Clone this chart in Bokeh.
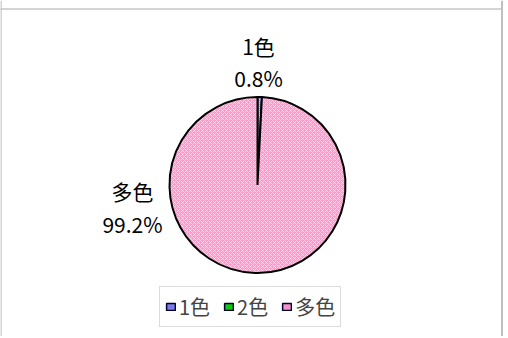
import numpy as np
from bokeh.plotting import figure
from bokeh.models import Range1d, Span, Legend, LegendItem, ColumnDataSource
from bokeh.core.properties import value
from bokeh.embed import file_html
from bokeh.resources import INLINE

# ---- data ----
categories = ["1色", "2色", "多色"]
percents = [0.8, 0.0, 99.2]
fill_colors = ["#9999FF", "#33CC33", "#FF99CC"]
legend_colors = ["#7C7CE8", "#10C810", "#F590C8"]

W, H = 503, 336
FONT = "Noto Sans CJK JP"
p = figure(width=W, height=H, output_backend="svg", toolbar_location=None,
           x_range=Range1d(0, W), y_range=Range1d(0, H), min_border=0)
p.axis.visible = False
p.grid.visible = False
p.outline_line_color = None
p.background_fill_color = "white"
p.border_fill_color = "white"

# chart border (top, left, right)
p.add_layout(Span(location=H - 8.5, dimension="width", line_color="#a8a8a8", line_width=1))
p.add_layout(Span(location=0.5, dimension="height", line_color="#a8a8a8", line_width=1))
p.add_layout(Span(location=501.5, dimension="height", line_color="#c0c0c0", line_width=2))

# pie geometry (screen-pixel data space)
cx, cy, r = 257, H - 184.5, 88
vals = np.array(percents, dtype=float)
frac = vals / vals.sum()
cum = np.concatenate([[0.0], np.cumsum(frac)])
start = np.pi / 2 - 2 * np.pi * cum[:-1]
end = np.pi / 2 - 2 * np.pi * cum[1:]
keep = vals > 0  # zero-valued slices are not drawn

src = ColumnDataSource(dict(x=[cx] * int(keep.sum()), y=[cy] * int(keep.sum()),
                            start=list(start[keep]), end=list(end[keep]),
                            color=[c for c, k in zip(fill_colors, keep) if k]))
p.wedge(x="x", y="y", radius=r, start_angle="start", end_angle="end",
        direction="clock", fill_color="color", line_color="black",
        line_width=2, hatch_pattern="diagonal_cross", hatch_color="white",
        hatch_scale=4, hatch_weight=1, hatch_alpha=0.5, source=src)

# data labels (shown for non-zero slices)
label_pos = {"1色": (258, H - 45, H - 77), "多色": (132, H - 190, H - 223.5)}
font = value(FONT)
lx, ly1, ly2, t1, t2 = [], [], [], [], []
for c, v in zip(categories, percents):
    if c in label_pos and v > 0:
        x0, y1, y2 = label_pos[c]
        lx.append(x0); ly1.append(y1); ly2.append(y2)
        t1.append(c); t2.append(f"{v:.1f}%")
p.text(x=lx, y=ly1, text=t1, text_font=font, text_font_size="21px",
       text_align="center", text_baseline="middle", text_color="black")
p.text(x=lx, y=ly2, text=t2, text_font=font, text_font_size="21px",
       text_align="center", text_baseline="middle", text_color="black")

# legend proxies (thin-bordered squares, no visible points)
items = []
for c, col in zip(categories, legend_colors):
    rr = p.quad(left=[np.nan], right=[np.nan], top=[np.nan], bottom=[np.nan],
                fill_color=col, line_color="#000030", line_width=1.5)
    items.append(LegendItem(label=c, renderers=[rr], index=0))
legend = Legend(items=items, orientation="horizontal", location=(159, 9),
                glyph_width=11, glyph_height=9, label_standoff=3, spacing=13,
                padding=5, margin=0, label_height=20, label_text_font=FONT,
                label_text_font_size="20px", border_line_color="#b8b8b8",
                border_line_width=1, background_fill_alpha=1)
p.add_layout(legend, "center")

open("out.html", "w").write(file_html(p, INLINE))
